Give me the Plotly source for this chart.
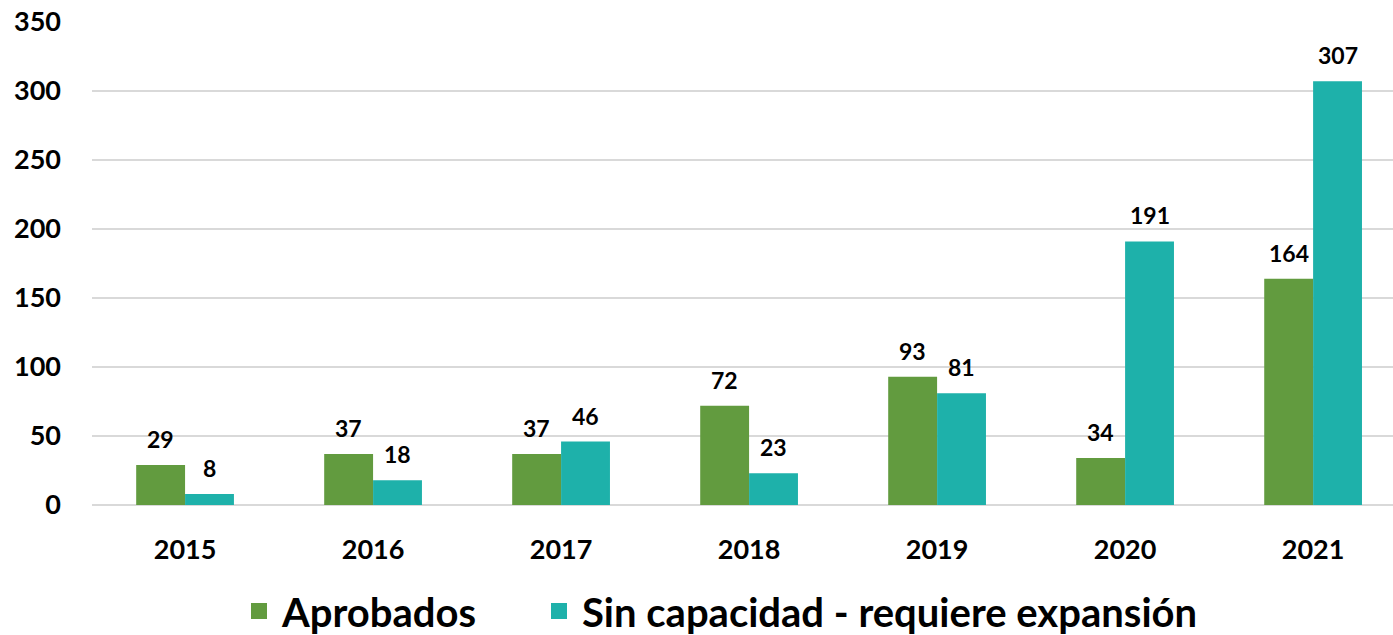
import plotly.graph_objects as go

years = ["2015", "2016", "2017", "2018", "2019", "2020", "2021"]
aprobados = [29, 37, 37, 72, 93, 34, 164]
sin_capacidad = [8, 18, 46, 23, 81, 191, 307]
names = ["Aprobados", "Sin capacidad - requiere expansión"]
colors = ["#629B3F", "#1EB1AA"]
y_ticks = [0, 50, 100, 150, 200, 250, 300, 350]

FONT = "Lato, 'Open Sans', sans-serif"
legend_ids = ["legend", "legend2"]
legend_x = [236 / 1393, 536 / 1393]

fig = go.Figure()
for i, (name, vals, col) in enumerate(zip(names, [aprobados, sin_capacidad], colors)):
    fig.add_trace(go.Bar(
        x=years, y=vals, name=name, marker_color=col,
        marker_line_width=0, showlegend=False,
    ))
    fig.add_trace(go.Scatter(
        x=[None], y=[None], mode="markers", name=name,
        marker=dict(symbol="square", size=32, color=col),
        showlegend=True, legend=legend_ids[i],
    ))
    shift = -24.5 if i == 0 else 24.5
    for j, v in enumerate(vals):
        fig.add_annotation(
            x=j, y=v, xref="x", yref="y", text=str(v), showarrow=False,
            xshift=shift, yshift=26, yanchor="middle",
            font=dict(family=FONT, size=23, color="black", weight="bold"),
        )

leg_common = dict(orientation="h", xref="container", xanchor="left",
                  y=-0.152, yanchor="top", itemwidth=36,
                  font=dict(family=FONT, size=40, weight="bold"))

fig.update_layout(
    width=1393, height=635,
    paper_bgcolor="white", plot_bgcolor="white",
    margin=dict(l=92, r=0, t=22, b=130, autoexpand=False),
    barmode="group", bargap=0.48, bargroupgap=0,
    font=dict(family=FONT, color="black"),
    legend=dict(x=legend_x[0], **leg_common),
    legend2=dict(x=legend_x[1], **leg_common),
    xaxis=dict(type="category", categoryorder="array", categoryarray=years,
               range=[-0.495, 6.425],
               showgrid=False, showline=False, ticks="", ticklabelstandoff=26,
               tickfont=dict(family=FONT, size=27, weight="bold")),
    yaxis=dict(range=[0, 350], tickvals=y_ticks, showgrid=True,
               gridcolor="#D9D9D9", gridwidth=2, zeroline=True,
               zerolinecolor="#D9D9D9", zerolinewidth=2, showline=False,
               ticks="", ticklabelstandoff=30,
               tickfont=dict(family=FONT, size=27, weight="bold")),
)

fig.write_html("out.html", config={"displayModeBar": False},
               post_script="document.body.style.margin='0';")
